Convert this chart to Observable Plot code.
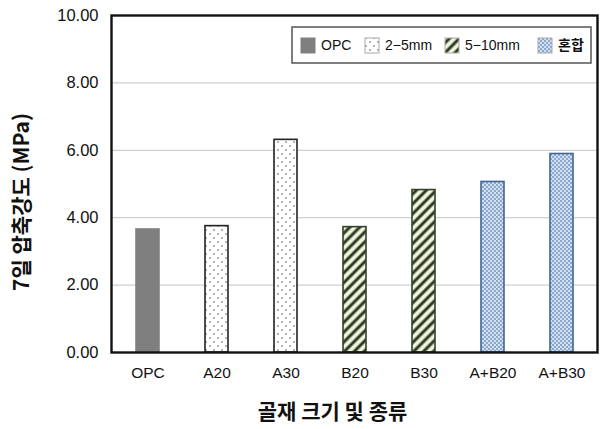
<!DOCTYPE html>
<html><head><meta charset="utf-8">
<script src="https://cdn.jsdelivr.net/npm/d3@7"></script>
<script src="https://cdn.jsdelivr.net/npm/@observablehq/plot@0.6"></script>
<style>body{margin:0;background:#fff}</style>
</head><body><div id="chart"></div>
<script>
const categories = ["OPC","A20","A30","B20","B30","A+B20","A+B30"];
const values = [3.65, 3.75, 6.31, 3.72, 4.82, 5.06, 5.89];
const groups = ["OPC","2-5mm","2-5mm","5-10mm","5-10mm","혼합","혼합"];
const legendKeys = ["OPC","2-5mm","5-10mm","혼합"];
const legendLabels = ["OPC","2−5mm","5−10mm","혼합"];
const yTicks = [0,2,4,6,8,10];
const yTitle = "7일 압축강도 (MPa)";
const xTitle = "골재 크기 및 종류";

const fills = {"OPC":"#7f7f7f","2-5mm":"url(#pDots)","5-10mm":"url(#pStripes)","혼합":"url(#pCross)"};
const strokes = {"OPC":"#808080","2-5mm":"#222222","5-10mm":"#34402a","혼합":"#3f6796"};
const data = categories.map((c,i)=>({cat:c, value:values[i], group:groups[i]}));

const korean = "'Noto Sans CJK KR', 'Liberation Sans', sans-serif";
const latin = "'Liberation Sans', Arial, sans-serif";
const plot = Plot.plot({
  width: 601, height: 429,
  marginLeft: 111, marginRight: 4, marginTop: 15, marginBottom: 77,
  style: {fontFamily: latin, fontSize: "15px", background: "#fff", color: "#111"},
  x: {domain: categories, paddingInner: 0.67, paddingOuter: 0.335, label: null},
  y: {domain: [0,10], label: null},
  color: {type: "identity"},
  marks: [
    Plot.gridY(yTicks.filter(t => t > 0 && t < 10), {stroke: "#cfcfcf", strokeOpacity: 1, strokeWidth: 1.3}),
    Plot.barY(data, {x: "cat", y: "value", fill: d => fills[d.group], stroke: d => strokes[d.group], strokeWidth: 1.6}),
    Plot.frame({stroke: "#111", strokeWidth: 2.4}),
    Plot.axisY({ticks: yTicks, tickFormat: d => d.toFixed(2), tickSize: 0, tickPadding: 13, label: null, fontSize: 16.5}),
    Plot.axisX({tickSize: 0, tickPadding: 14, label: null, fontSize: 15.5}),
    Plot.text([yTitle], {frameAnchor: "left", dx: -89, dy: 18, rotate: -90, textAnchor: "middle", text: d => d, fontSize: 21, fontWeight: "bold", fontFamily: korean, fill: "#111"}),
    Plot.text([xTitle], {frameAnchor: "bottom", dx: -22, dy: 66, textAnchor: "middle", text: d => d, fontSize: 21, fontWeight: "bold", fontFamily: korean, fill: "#111"})
  ]
});
document.getElementById("chart").appendChild(plot);

const svg = d3.select(plot);
const defs = svg.insert("defs", ":first-child");
// dots
const pd = defs.append("pattern").attr("id","pDots").attr("patternUnits","userSpaceOnUse").attr("width",8).attr("height",8);
pd.append("rect").attr("width",8).attr("height",8).attr("fill","#fff");
pd.append("circle").attr("cx",2).attr("cy",2).attr("r",0.8).attr("fill","#555");
pd.append("circle").attr("cx",6).attr("cy",6).attr("r",0.8).attr("fill","#555");
// stripes
const ps = defs.append("pattern").attr("id","pStripes").attr("patternUnits","userSpaceOnUse").attr("width",7).attr("height",7).attr("patternTransform","rotate(45)");
ps.append("rect").attr("width",7).attr("height",7).attr("fill","#eef6dc");
ps.append("line").attr("x1",2).attr("x2",2).attr("y1",0).attr("y2",7).attr("stroke","#2b3522").attr("stroke-width",3);
// cross
const pc = defs.append("pattern").attr("id","pCross").attr("patternUnits","userSpaceOnUse").attr("width",4).attr("height",4);
pc.append("rect").attr("width",4).attr("height",4).attr("fill","#d3e0ef");
pc.append("circle").attr("cx",1).attr("cy",1).attr("r",0.9).attr("fill","#6a8dbd");
pc.append("circle").attr("cx",3).attr("cy",3).attr("r",0.9).attr("fill","#6a8dbd");

// legend inside plot
const lg = svg.append("g").attr("text-anchor","start");
lg.append("rect").attr("x",292).attr("y",27).attr("width",299).attr("height",36).attr("fill","#fff").attr("stroke","#555").attr("stroke-width",1.5);
const xs = [301, 365, 445, 538];
legendKeys.forEach((k,i) => {
  lg.append("rect").attr("x",xs[i]).attr("y",38).attr("width",14).attr("height",15).attr("fill",fills[k]).attr("stroke", k==="OPC" ? "#808080" : "#aaa").attr("stroke-width",1);
  lg.append("text").attr("x",xs[i]+20).attr("y",45.5).attr("dy","0.35em").attr("font-size",14)
    .attr("text-anchor","start")
    .attr("font-family", k==="혼합" ? korean : latin).attr("font-weight", k==="혼합" ? "bold" : "normal")
    .attr("fill","#111").text(legendLabels[i]);
});
</script>
</body></html>
